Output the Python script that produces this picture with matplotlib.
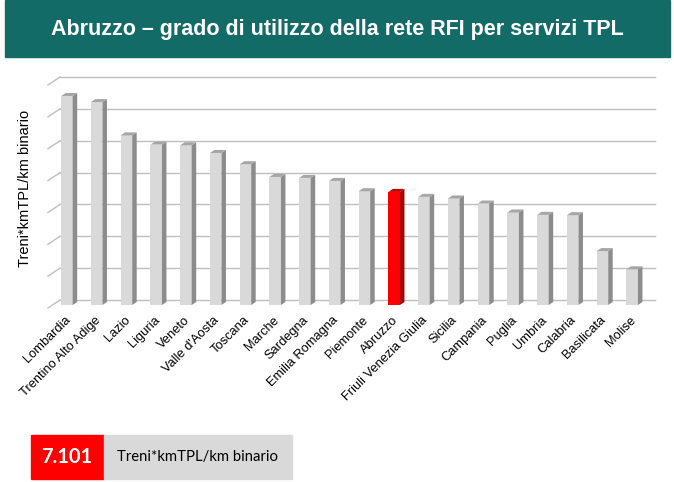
import numpy as np
import matplotlib.pyplot as plt
from matplotlib.patches import Rectangle, Polygon
from matplotlib.transforms import offset_copy

regioni = ['Lombardia', 'Trentino Alto Adige', 'Lazio', 'Liguria', 'Veneto',
           "Valle d'Aosta", 'Toscana', 'Marche', 'Sardegna', 'Emilia Romagna',
           'Piemonte', 'Abruzzo', 'Friuli Venezia Giulia', 'Sicilia', 'Campania',
           'Puglia', 'Umbria', 'Calabria', 'Basilicata', 'Molise']
valori = [13120, 12740, 10650, 10070, 10030, 9545, 8840, 8040, 7980, 7790,
          7145, 7101, 6790, 6690, 6370, 5810, 5660, 5640, 3385, 2240]
griglia = np.arange(0, 14001, 2000)
evidenza = 'Abruzzo'
valore_box = '7.101'
unita = 'Treni*kmTPL/km binario'

W, H, DPI = 674, 482, 100
fig = plt.figure(figsize=(W / DPI, H / DPI), dpi=DPI)
fig.patch.set_facecolor('white')

def px(x0, y0, x1, y1):
    # pixel box (top-left origin) -> figure fraction
    return [x0 / W, 1 - y1 / H, (x1 - x0) / W, (y1 - y0) / H]

# title banner
fig.patches.append(Rectangle((5 / W, 1 - 57 / H), 665 / W, 57 / H,
                             transform=fig.transFigure, color='#136b67', zorder=0))
fig.text(0.5, 1 - 29 / H, 'Abruzzo \u2013 grado di utilizzo della rete RFI per servizi TPL',
         color='white', fontsize=15.5, fontweight='bold', ha='center', va='center',
         family=['Liberation Sans', 'DejaVu Sans'])

ax = fig.add_axes(px(60, 82, 655, 305))
n = len(regioni)
ax.set_xlim(-0.5, n - 0.5)
ax.set_ylim(0, 14000)
ax.axis('off')

# conversion pixel -> data
xu = n / 595.0
yu = 14000 / 223.0

# back wall grid (shifted up a few px) + left wall diagonals
grid_tr = offset_copy(ax.transData, fig=fig, x=0, y=5, units='dots')
for v in griglia:
    ax.plot([-0.5, n - 0.5], [v, v], color='#bfbfbf', lw=1.0, transform=grid_tr,
            clip_on=False, zorder=1)
    ax.plot([-0.5 - 12 * xu, -0.5], [v - 8 * yu, v], color='#bfbfbf', lw=1.0,
            transform=grid_tr, clip_on=False, zorder=1)

# bars with pseudo-3D faces
bw = 11.5 * xu
dx, dy = 4.5 * xu, 3 * yu
x0 = np.arange(n) - 0.5 + 1.2 * xu
for x, v, r in zip(x0, valori, regioni):
    if r == evidenza:
        front, side, top = '#ff0000', '#a80000', '#c00000'
    else:
        front, side, top = '#d9d9d9', '#8c8c8c', '#a6a6a6'
    ax.bar(x, v, width=bw, align='edge', color=front, zorder=3)
    ax.add_patch(Polygon([[x + bw, 0], [x + bw + dx, dy], [x + bw + dx, v + dy], [x + bw, v]],
                         closed=True, color=side, zorder=3, lw=0))
    ax.add_patch(Polygon([[x, v], [x + dx, v + dy], [x + bw + dx, v + dy], [x + bw, v]],
                         closed=True, color=top, zorder=3, lw=0))

# category labels
for x, r in zip(x0, regioni):
    ax.text(x + bw / 2 - 2.5 * xu, -9 * yu, r, rotation=45, ha='right', va='top',
            rotation_mode='anchor', fontsize=9.3, color='black',
            family=['Liberation Sans', 'DejaVu Sans'])

fig.text(25 / W, 1 - 188 / H, unita, rotation=90, ha='center', va='center',
         fontsize=10.5, family=['Liberation Sans', 'DejaVu Sans'])

# value box
fig.patches.append(Rectangle((31 / W, 1 - 479 / H), 73 / W, 44 / H,
                             transform=fig.transFigure, color='#ff0000', zorder=0))
fig.patches.append(Rectangle((104 / W, 1 - 479 / H), 188 / W, 44 / H,
                             transform=fig.transFigure, color='#d9d9d9', zorder=0))
fig.text(67 / W, 1 - 457 / H, valore_box, color='white', fontsize=14.5, fontweight='bold',
         ha='center', va='center', family=['Lato', 'DejaVu Sans'])
fig.text(117 / W, 1 - 457 / H, unita, color='black', fontsize=10.7,
         ha='left', va='center', family=['Lato', 'DejaVu Sans'])

fig.savefig('out.png', dpi=DPI)
